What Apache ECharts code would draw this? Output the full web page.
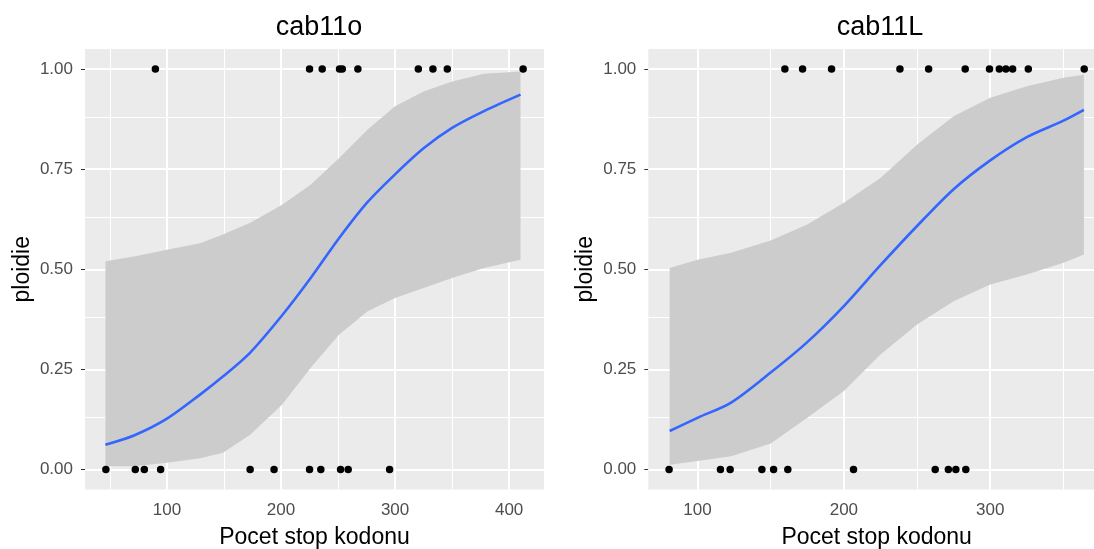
<!DOCTYPE html>
<html>
<head>
<meta charset="utf-8">
<script src="https://cdn.jsdelivr.net/npm/echarts@6/dist/echarts.min.js"></script>
<style>
html,body{margin:0;padding:0;background:#fff;}
#c{width:1094px;height:549px;}
</style>
</head>
<body>
<div id="c"></div>
<script>
// ---------- data ----------
const panelTitles = ['cab11o', 'cab11L'];
const xAxisTitle = 'Pocet stop kodonu';
const yAxisTitle = 'ploidie';

// left panel (cab11o)
const leftOnesX  = [89.8, 225.0, 236.1, 251.3, 253.7, 267.4, 320.4, 333.2, 345.8, 412.3];
const leftZerosX = [46.4, 72.2, 80.1, 94.4, 172.9, 193.9, 225.0, 234.9, 252.2, 258.9, 295.2];
const leftCurveX = [46, 71, 100, 129, 149, 173, 201, 226, 251, 276, 300, 325, 350, 378, 410];
const leftFit    = [0.062, 0.085, 0.127, 0.187, 0.232, 0.292, 0.385, 0.478, 0.578, 0.668, 0.737, 0.802, 0.853, 0.895, 0.936];
const leftUpper  = [0.520, 0.532, 0.549, 0.565, 0.587, 0.616, 0.661, 0.711, 0.778, 0.849, 0.907, 0.944, 0.969, 0.988, 0.994];
const leftLower  = [0.008, 0.008, 0.017, 0.028, 0.042, 0.087, 0.162, 0.254, 0.337, 0.395, 0.428, 0.453, 0.478, 0.503, 0.524];

// right panel (cab11L)
const rightOnesX  = [159.7, 171.8, 191.6, 238.3, 257.9, 282.9, 299.5, 306.2, 310.7, 315.3, 326.0, 364.2];
const rightZerosX = [80.6, 115.7, 122.3, 144.0, 152.0, 161.7, 206.6, 262.4, 271.4, 276.5, 283.3];
const rightCurveX = [81, 100, 123, 150, 175, 200, 225, 250, 275, 300, 325, 350, 364];
const rightFit    = [0.096, 0.129, 0.167, 0.242, 0.318, 0.408, 0.510, 0.608, 0.700, 0.772, 0.830, 0.871, 0.898];
const rightUpper  = [0.503, 0.524, 0.541, 0.572, 0.612, 0.666, 0.728, 0.811, 0.882, 0.928, 0.957, 0.978, 0.986];
const rightLower  = [0.012, 0.021, 0.033, 0.065, 0.129, 0.196, 0.287, 0.362, 0.420, 0.462, 0.487, 0.516, 0.537];

// axes
const leftXRange  = [28.1, 430.6];
const rightXRange = [66.4, 378.4];
const yRange = [-0.05, 1.05];
const leftXTicks  = [100, 200, 300, 400];
const leftXMinor  = [50, 150, 250, 350];
const rightXTicks = [100, 200, 300];
const rightXMinor = [150, 250, 350];
const yTicks = [0, 0.25, 0.5, 0.75, 1];
const yMinor = [0.125, 0.375, 0.625, 0.875];

// ---------- chart ----------
const FONT = 'Liberation Sans, Arial, sans-serif';
const chart = echarts.init(document.getElementById('c'), null, {renderer: 'canvas'});

const grids = [
  {left: 85, top: 49, width: 459, height: 440.5},
  {left: 648.3, top: 49, width: 456.7, height: 440.5}
];

function xAxisDef(idx, range, ticks) {
  return {
    type: 'value', gridIndex: idx, min: range[0], max: range[1],
    axisLine: {show: false},
    splitLine: {show: false},
    axisTick: {show: true, customValues: ticks, length: 4, lineStyle: {color: '#333333', width: 1}},
    axisLabel: {customValues: ticks, color: '#4D4D4D', fontSize: 17, fontFamily: FONT, margin: 12},
    name: xAxisTitle, nameLocation: 'middle', nameGap: 37,
    nameTextStyle: {color: '#000', fontSize: 23, fontFamily: FONT}
  };
}
function yAxisDef(idx) {
  return {
    type: 'value', gridIndex: idx, min: yRange[0], max: yRange[1],
    axisLine: {show: false},
    splitLine: {show: false},
    axisTick: {show: true, customValues: yTicks, length: 4, lineStyle: {color: '#333333', width: 1}},
    axisLabel: {customValues: yTicks, color: '#4D4D4D', fontSize: 17, fontFamily: FONT, margin: 12,
      formatter: v => Number(v).toFixed(2)},
    name: yAxisTitle, nameLocation: 'middle', nameGap: 51,
    nameTextStyle: {color: '#000', fontSize: 23, fontFamily: FONT}
  };
}

function gridLines(idx, xMaj, xMin) {
  const maj = {color: '#FFFFFF', width: 2, type: 'solid'};
  const min = {color: '#FFFFFF', width: 1, type: 'solid'};
  const d = [];
  xMin.forEach(v => d.push({xAxis: v, lineStyle: min}));
  yMinor.forEach(v => d.push({yAxis: v, lineStyle: min}));
  xMaj.forEach(v => d.push({xAxis: v, lineStyle: maj}));
  yTicks.forEach(v => d.push({yAxis: v, lineStyle: maj}));
  return {
    type: 'line', xAxisIndex: idx, yAxisIndex: idx, data: [], z: 1, silent: true,
    markLine: {z: 1, silent: true, symbol: ['none', 'none'], label: {show: false}, data: d, animation: false}
  };
}

function ribbon(idx, xs, lo, hi) {
  return {
    type: 'custom', xAxisIndex: idx, yAxisIndex: idx, z: 2, silent: true,
    data: [[xs[0], lo[0]]],
    renderItem: function (params, api) {
      const pts = [];
      for (let i = 0; i < xs.length; i++) pts.push(api.coord([xs[i], hi[i]]));
      for (let i = xs.length - 1; i >= 0; i--) pts.push(api.coord([xs[i], lo[i]]));
      return {type: 'polygon', z2: 0, shape: {points: pts}, style: {fill: '#CCCCCC', stroke: null}};
    }
  };
}

function fitLine(idx, xs, ys) {
  return {
    type: 'line', xAxisIndex: idx, yAxisIndex: idx, z: 3, smooth: 0.3, showSymbol: false, silent: true,
    data: xs.map((x, i) => [x, ys[i]]),
    lineStyle: {color: '#3366FF', width: 2.6}
  };
}

function points(idx, ones, zeros) {
  return {
    type: 'scatter', xAxisIndex: idx, yAxisIndex: idx, z: 4, silent: true,
    symbolSize: 7.5,
    itemStyle: {color: '#000000', opacity: 1},
    data: ones.map(x => [x, 1]).concat(zeros.map(x => [x, 0]))
  };
}

chart.setOption({
  animation: false,
  backgroundColor: '#FFFFFF',
  title: [
    {text: panelTitles[0], left: 314, top: 9, textAlign: 'center',
     textStyle: {fontSize: 27, fontWeight: 'normal', color: '#000', fontFamily: FONT}},
    {text: panelTitles[1], left: 875, top: 9, textAlign: 'center',
     textStyle: {fontSize: 27, fontWeight: 'normal', color: '#000', fontFamily: FONT}}
  ],
  grid: grids.map(g => Object.assign({show: true, backgroundColor: '#EBEBEB', borderWidth: 0,
    containLabel: false, outerBoundsMode: 'none'}, g)),
  xAxis: [xAxisDef(0, leftXRange, leftXTicks), xAxisDef(1, rightXRange, rightXTicks)],
  yAxis: [yAxisDef(0), yAxisDef(1)],
  series: [
    gridLines(0, leftXTicks, leftXMinor),
    gridLines(1, rightXTicks, rightXMinor),
    ribbon(0, leftCurveX, leftLower, leftUpper),
    ribbon(1, rightCurveX, rightLower, rightUpper),
    fitLine(0, leftCurveX, leftFit),
    fitLine(1, rightCurveX, rightFit),
    points(0, leftOnesX, leftZerosX),
    points(1, rightOnesX, rightZerosX)
  ]
});
</script>
</body>
</html>
